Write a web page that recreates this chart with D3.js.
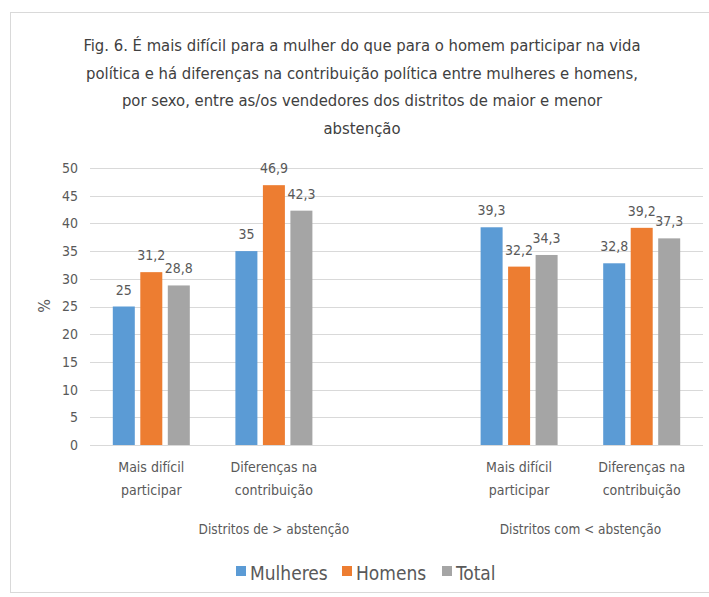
<!DOCTYPE html>
<html>
<head>
<meta charset="utf-8">
<script src="https://cdn.jsdelivr.net/npm/d3@7"></script>
<style>
  html, body { margin: 0; padding: 0; background: #fff; }
  svg { display: block; font-family: "Liberation Sans Narrow", "DejaVu Sans Condensed", "Open Sans", sans-serif; }
</style>
</head>
<body>
<svg id="chart" width="709" height="597"></svg>
<script>
const titleLines = [
  "Fig. 6. É mais difícil para a mulher do que para o homem participar na vida",
  "política e há diferenças na contribuição política entre mulheres e homens,",
  "por sexo, entre as/os vendedores dos distritos de maior e menor",
  "abstenção"
];
const districts = ["Distritos de > abstenção", "Distritos com < abstenção"];
const itemLabels = [["Mais difícil", "participar"], ["Diferenças na", "contribuição"]];
const slots = ["d1a", "d1b", "gap", "d2a", "d2b"];
const barSlots = ["d1a", "d1b", "d2a", "d2b"];
const series = ["Mulheres", "Homens", "Total"];
const mulheres = [25, 35, 39.3, 32.8];
const homens = [31.2, 46.9, 32.2, 39.2];
const total = [28.8, 42.3, 34.3, 37.3];
const yTicks = [0, 5, 10, 15, 20, 25, 30, 35, 40, 45, 50];
const colors = ["#5B9BD5", "#ED7D31", "#A5A5A5"];

const values = [mulheres, homens, total];
const svg = d3.select("#chart");
const textColor = "#595959";

// outer border
svg.append("rect").attr("x", 10.5).attr("y", 12.5).attr("width", 720).attr("height", 580)
  .attr("fill", "none").attr("stroke", "#d9d9d9").attr("stroke-width", 1);

// title
svg.append("g").selectAll("text").data(titleLines).join("text")
  .attr("x", 362).attr("y", (d, i) => 51 + i * 27.5)
  .attr("text-anchor", "middle").attr("font-size", 16.5).attr("fill", "#404040")
  .text(d => d);

const x = d3.scaleBand().domain(slots).range([90, 703]);
const y = d3.scaleLinear().domain([0, 50]).range([445, 168]);
const xs = d3.scaleBand().domain(series).range([-38.5, 38.5]).paddingInner(0.2);

// gridlines
svg.append("g").selectAll("line").data(yTicks).join("line")
  .attr("x1", 90).attr("x2", 703)
  .attr("y1", d => Math.round(y(d)) + 0.5).attr("y2", d => Math.round(y(d)) + 0.5)
  .attr("stroke", "#d9d9d9").attr("stroke-width", 1);

// y axis
const yAxis = d3.axisLeft(y).tickValues(yTicks).tickSize(0).tickPadding(0);
const ya = svg.append("g").attr("transform", "translate(78,0)").call(yAxis);
ya.select(".domain").remove();
ya.selectAll("text").attr("font-size", 14).attr("fill", textColor)
  .attr("font-family", "\"Liberation Sans Narrow\", \"DejaVu Sans Condensed\", sans-serif");

svg.append("text").attr("transform", "translate(50,306) rotate(-90)")
  .attr("text-anchor", "middle").attr("font-size", 16).attr("fill", textColor).text("%");

// bars
series.forEach((s, si) => {
  const g = svg.append("g");
  const data = barSlots.map((k, i) => ({ k, v: values[si][i] }));
  g.selectAll("rect").data(data).join("rect")
    .attr("x", d => x(d.k) + x.bandwidth() / 2 + xs(s))
    .attr("width", xs.bandwidth())
    .attr("y", d => y(d.v))
    .attr("height", d => y(0) - y(d.v))
    .attr("fill", colors[si]);
  g.selectAll("text").data(data).join("text")
    .attr("x", d => x(d.k) + x.bandwidth() / 2 + xs(s) + xs.bandwidth() / 2)
    .attr("y", d => y(d.v) - 12)
    .attr("text-anchor", "middle").attr("font-size", 14).attr("fill", textColor)
    .text(d => String(d.v).replace(".", ","));
});

// category labels
const catG = svg.append("g");
barSlots.forEach((k, i) => {
  const lines = itemLabels[i % 2];
  lines.forEach((ln, li) => {
    catG.append("text")
      .attr("x", x(k) + x.bandwidth() / 2).attr("y", 472 + li * 23)
      .attr("text-anchor", "middle").attr("font-size", 14).attr("fill", textColor)
      .text(ln);
  });
});

// district labels
const districtCenters = [x("d1b") + x.bandwidth() / 2, (x("d2a") + x("d2b")) / 2 + x.bandwidth() / 2];
svg.append("g").selectAll("text").data(districts).join("text")
  .attr("x", (d, i) => districtCenters[i]).attr("y", 534)
  .attr("text-anchor", "middle").attr("font-size", 13.5).attr("fill", textColor)
  .text(d => d);

// legend
const legendX = [236, 342, 442];
const lg = svg.append("g");
series.forEach((s, i) => {
  lg.append("rect").attr("x", legendX[i]).attr("y", 566).attr("width", 10).attr("height", 10).attr("fill", colors[i]);
  lg.append("text").attr("x", legendX[i] + 14).attr("y", 580)
    .attr("font-size", 19).attr("fill", textColor).text(s);
});
</script>
</body>
</html>
